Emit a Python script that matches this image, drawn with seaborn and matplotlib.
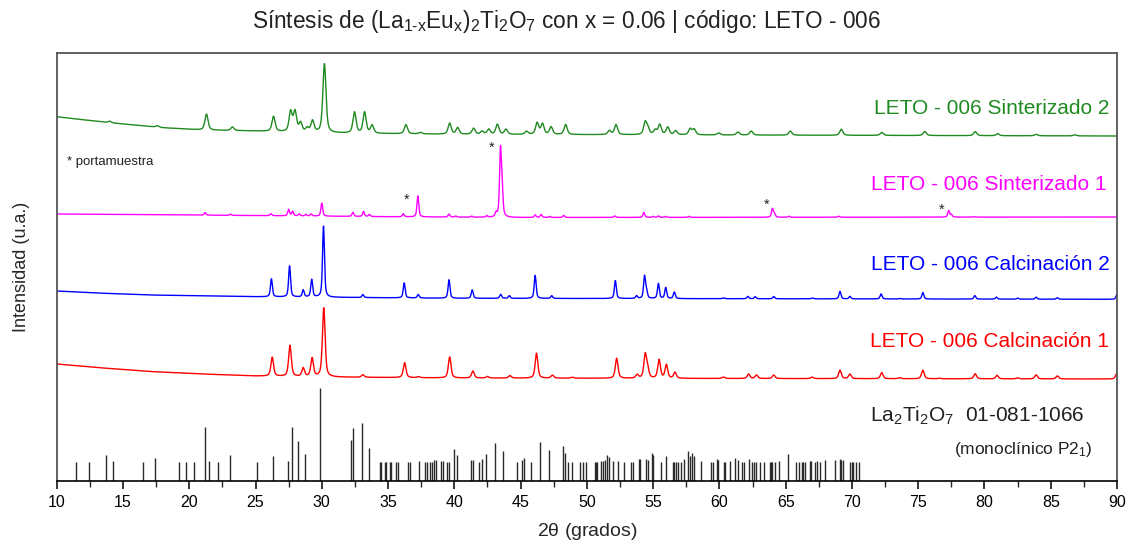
import numpy as np
import pandas as pd
import seaborn as sns
import matplotlib.pyplot as plt

# ---------------- data ----------------
# intensity units: arbitrary, stacked patterns
red_bg_x = [10, 13, 17, 21, 25, 30, 40, 60, 90]
red_bg_y = [117, 113.5, 109.5, 107, 105, 104, 103, 102.5, 102]
red_pk = [26.26, 27.6, 28.6, 29.27, 30.15, 33.1, 36.25, 37.3, 39.65, 41.4, 42.5, 44.2, 46.2, 47.4,
          48.9, 52.25, 53.8, 54.4, 54.58, 55.45, 56.0, 56.65, 60.3, 62.2, 62.8, 64.1, 67.0, 69.1,
          69.85, 72.25, 73.6, 75.35, 76.6, 79.3, 80.95, 82.5, 83.9, 85.5, 90.0]
red_h = [19, 31, 8.5, 18.5, 69, 2.5, 15, 1, 21, 7, 1.5, 2.5, 25, 3,
         1, 20, 3.5, 23, 9, 18.5, 13.5, 6, 1.5, 4.5, 3.5, 3.5, 1.5, 8.5,
         4.5, 6, 1, 8.5, 0.5, 5, 3.5, 1, 4, 3, 6]

blue_bg_x = [10, 13, 17, 25, 40, 90]
blue_bg_y = [190, 188, 186, 184.3, 182.7, 181.7]
blue_pk = [26.2, 27.57, 28.6, 29.24, 30.13, 33.1, 36.22, 37.28, 39.6, 41.35, 43.5, 44.15, 46.1,
           47.35, 52.15, 53.75, 54.35, 54.5, 55.4, 55.95, 56.6, 60.3, 62.15, 62.7, 64.1, 67.0,
           69.1, 69.85, 72.2, 73.6, 75.35, 79.27, 80.9, 82.5, 83.9, 85.5, 90.0]
blue_h = [18, 31, 7, 17.5, 71, 3, 15, 3.5, 18.5, 8.5, 4, 2.7, 23,
          2.7, 18, 2.7, 22, 7, 15, 11, 6.5, 0.8, 2.3, 2, 2.3, 0.8,
          7.5, 2.5, 5, 0.5, 6.5, 3.5, 2, 1, 2, 1.5, 5]

mag_bg_x = [10, 20, 35, 45, 90]
mag_bg_y = [267, 266, 264.3, 263.5, 264]
mag_pk = [21.2, 23.1, 26.16, 27.5, 27.8, 28.3, 28.8, 29.2, 30.0, 32.35, 33.15, 33.6, 36.15,
          37.25, 39.6, 40.1, 41.3, 42.45, 43.15, 43.48, 43.6, 46.1, 46.55, 47.2, 48.25, 52.1,
          54.3, 55.0, 55.4, 55.95, 57.7, 64.0, 64.15, 65.25, 69.0, 77.3, 77.5, 79.2]
mag_h = [2.5, 1, 2, 6.5, 4.5, 2, 1.5, 2, 13, 4, 5, 2, 3,
         21, 3, 1, 1, 1.5, 4, 64, 28, 2.5, 3, 1, 2, 1.5,
         5, 1, 1.5, 1, 1, 8.5, 3.5, 1, 1, 6.5, 2.5, 0.5]

grn_bg_x = [10, 11, 14, 18, 21, 25, 30, 40, 60, 90]
grn_bg_y = [364.3, 362.7, 358.3, 353.3, 351, 350, 348, 346.7, 346, 345]
grn_pk = [14.0, 17.6, 21.3, 23.26, 26.36, 27.65, 27.98, 28.4, 28.9, 29.3, 30.2, 32.47, 33.23,
          33.8, 36.35, 37.45, 39.65, 40.25, 41.45, 42.1, 42.6, 43.25, 43.9, 45.45, 46.25, 46.65,
          47.3, 48.4, 51.7, 52.2, 54.4, 54.6, 55.15, 55.5, 56.1, 56.7, 57.8, 58.1, 59.95, 61.4,
          62.4, 65.35, 69.2, 72.25, 75.5, 79.3, 81.0, 83.9, 86.8]
grn_h = [1.5, 1.5, 16, 3.5, 15, 20, 20, 9, 4, 11.5, 69, 21, 21,
         8, 9, 1.5, 11, 6.5, 6, 3, 5, 10, 5, 3, 11.5, 10.5,
         7.5, 10, 4, 10, 12, 6, 4.5, 10, 7.5, 4, 6, 5.5, 2, 3,
         4, 4, 6, 3, 4, 4, 2, 1.5, 1]

stick_pos = [11.44, 12.45, 13.71, 14.22, 16.54, 17.42, 19.24, 19.72, 20.33, 21.16, 21.49, 22.17,
             23.06, 25.15, 26.31, 27.47, 27.78, 28.21, 28.76, 29.90, 32.22, 32.35, 33.06, 33.56,
             34.37, 34.5, 34.75, 34.87, 35.13, 35.25, 35.6, 35.75, 36.5, 36.62, 37.3, 37.8,
             37.95, 38.2, 38.3, 38.5, 38.65, 39.0, 39.15, 39.45, 39.6, 40.0, 40.18, 41.25, 41.4,
             41.9, 42.08, 42.4, 43.07, 43.7, 44.7, 45.1, 45.25, 45.82, 46.45, 47.15, 48.18, 48.33,
             48.6, 48.9, 49.5, 49.7, 49.9, 50.6, 50.7, 50.8, 51.08, 51.2, 51.4, 51.5, 51.68,
             51.95, 52.35, 52.8, 53.3, 53.45, 53.9, 54.02, 54.45, 54.6, 54.9, 55.02, 55.6, 56.0,
             56.5, 56.6, 56.7, 56.9, 57.1, 57.35, 57.6, 57.75, 57.9, 58.1, 58.65, 59.4, 59.55,
             59.8, 59.92, 60.35, 60.45, 60.8, 61.2, 61.38, 61.7, 61.82, 62.2, 62.45, 62.6, 62.78,
             63.03, 63.33, 63.8, 63.9, 64.0, 64.17, 64.5, 65.2, 65.8, 66.0, 66.2, 66.3, 66.45,
             66.8, 66.92, 67.2, 67.4, 67.6, 68.0, 68.7, 69.1, 69.2, 69.35, 69.85, 70.0, 70.1,
             70.3, 70.5]
stick_int = [19, 19, 26, 20, 19, 23, 19, 19, 19, 54, 20, 19,
             26, 19, 25, 20, 54, 40, 27, 93, 41, 53, 58, 33,
             19, 19, 19, 19, 19, 19, 19, 19, 19, 19, 20, 19,
             19, 19, 19, 21, 21, 20, 20, 19, 19, 32, 26, 21, 21,
             19, 22, 27, 38, 30, 19, 21, 23, 19, 39, 31, 35, 28,
             19, 19, 19, 19, 19, 19, 19, 19, 20, 20, 21, 26, 24,
             20, 20, 19, 19, 19, 22, 22, 22, 21, 28, 26, 19, 25,
             19, 19, 19, 19, 19, 22, 30, 25, 28, 25, 20, 19, 19,
             22, 21, 19, 19, 20, 23, 21, 19, 19, 22, 19, 19, 19,
             19, 19, 19, 19, 19, 19, 20, 27, 19, 19, 19, 19, 19,
             20, 20, 19, 20, 19, 21, 21, 22, 21, 21, 19, 19, 19,
             19, 19]

sample_names = ["LETO - 006 Calcinación 1", "LETO - 006 Calcinación 2",
                "LETO - 006 Sinterizado 1", "LETO - 006 Sinterizado 2"]
sample_colors = ["#ff0000", "#0000ff", "#ff00ff", "#1f8a1f"]
sample_fwhm = [0.24, 0.17, 0.16, 0.28]

# ---------------- build patterns ----------------
theta = np.arange(10.0, 90.0001, 0.01)


def profile(bgx, bgy, pk, hh, fwhm, eta=0.55):
    y = np.interp(theta, bgx, bgy)
    for p, h in zip(pk, hh):
        d = (theta - p) / (fwhm / 2)
        y = y + h * (eta / (1 + d ** 2) + (1 - eta) * np.exp(-np.log(2) * d ** 2))
    return y


series = [(red_bg_x, red_bg_y, red_pk, red_h), (blue_bg_x, blue_bg_y, blue_pk, blue_h),
          (mag_bg_x, mag_bg_y, mag_pk, mag_h), (grn_bg_x, grn_bg_y, grn_pk, grn_h)]
frames = []
for name, (bx, by, pk, hh), fw in zip(sample_names, series, sample_fwhm):
    frames.append(pd.DataFrame({"2theta": theta, "I": profile(bx, by, pk, hh, fw), "muestra": name}))
df = pd.concat(frames, ignore_index=True)

# ---------------- figure ----------------
sns.set_theme(style="white")
plt.rcParams['font.family'] = ['Liberation Sans', 'DejaVu Sans']
plt.rcParams['mathtext.fontset'] = 'custom'
plt.rcParams['mathtext.rm'] = 'Liberation Sans'
plt.rcParams['mathtext.it'] = 'Liberation Sans:italic'

fig = plt.figure(figsize=(11.33, 5.52), dpi=100)
ax = fig.add_axes([56.7 / 1133, 71 / 552, (1117 - 56.7) / 1133, (481 - 53) / 552])

sns.lineplot(data=df, x="2theta", y="I", hue="muestra", palette=dict(zip(sample_names, sample_colors)),
             estimator=None, sort=False, legend=False, linewidth=1.0, ax=ax)
ax.vlines(stick_pos, 0, stick_int, color="#2a2a2a", linewidth=1.0)

ax.set_xlim(10, 90)
ax.set_ylim(0, 428)
ax.set_yticks([])
ax.set_xticks(np.arange(10, 91, 5))
ax.set_xticks(np.arange(12.5, 90, 5), minor=True)
ax.tick_params(axis='x', which='major', direction='out', length=6, width=1.1, colors='black',
               labelsize=11.5, pad=4, bottom=True)
ax.tick_params(axis='x', which='minor', direction='out', length=4, width=1.0, bottom=True)
for s in ['top', 'left', 'right']:
    ax.spines[s].set_color('#555555')
    ax.spines[s].set_linewidth(1.3)
ax.spines['bottom'].set_color('black')
ax.spines['bottom'].set_linewidth(1.2)

ax.set_xlabel(r"2$\mathrm{\theta}$ (grados)", fontsize=14, labelpad=8)
ax.set_ylabel("Intensidad (u.a.)", fontsize=13, labelpad=19)

# labels
fs = 15
ax.text(89.4, 367, sample_names[3], color=sample_colors[3], fontsize=fs, ha='right', va='baseline')
ax.text(89.2, 291, sample_names[2], color=sample_colors[2], fontsize=fs, ha='right', va='baseline')
ax.text(89.45, 211, sample_names[1], color=sample_colors[1], fontsize=fs, ha='right', va='baseline')
ax.text(89.4, 134.3, sample_names[0], color=sample_colors[0], fontsize=fs, ha='right', va='baseline')
ax.text(71.35, 59.3, r"La$_2$Ti$_2$O$_7$  01-081-1066", color='#222222', fontsize=15, ha='left', va='baseline')
ax.text(88.2, 27, r"(monoclínico P2$_1$)", color='#222222', fontsize=12.5, ha='right', va='baseline')
ax.text(10.75, 316, "* portamuestra", color='#222222', fontsize=9.5, ha='left', va='baseline')
for xs, ys in [(36.42, 285), (42.84, 337), (63.57, 280), (76.78, 275)]:
    ax.text(xs, ys - 8, "*", color='#222222', fontsize=10.5, ha='center', va='baseline')

fig.text(0.5, (552 - 28) / 552,
         r"Síntesis de (La$_{\mathrm{1\text{-}x}}$Eu$_{\mathrm{x}}$)$_2$Ti$_2$O$_7$ con x = 0.06 | código: LETO - 006",
         ha='center', va='baseline', fontsize=16.3, color='#222222')

fig.savefig("out.png", dpi=100)
